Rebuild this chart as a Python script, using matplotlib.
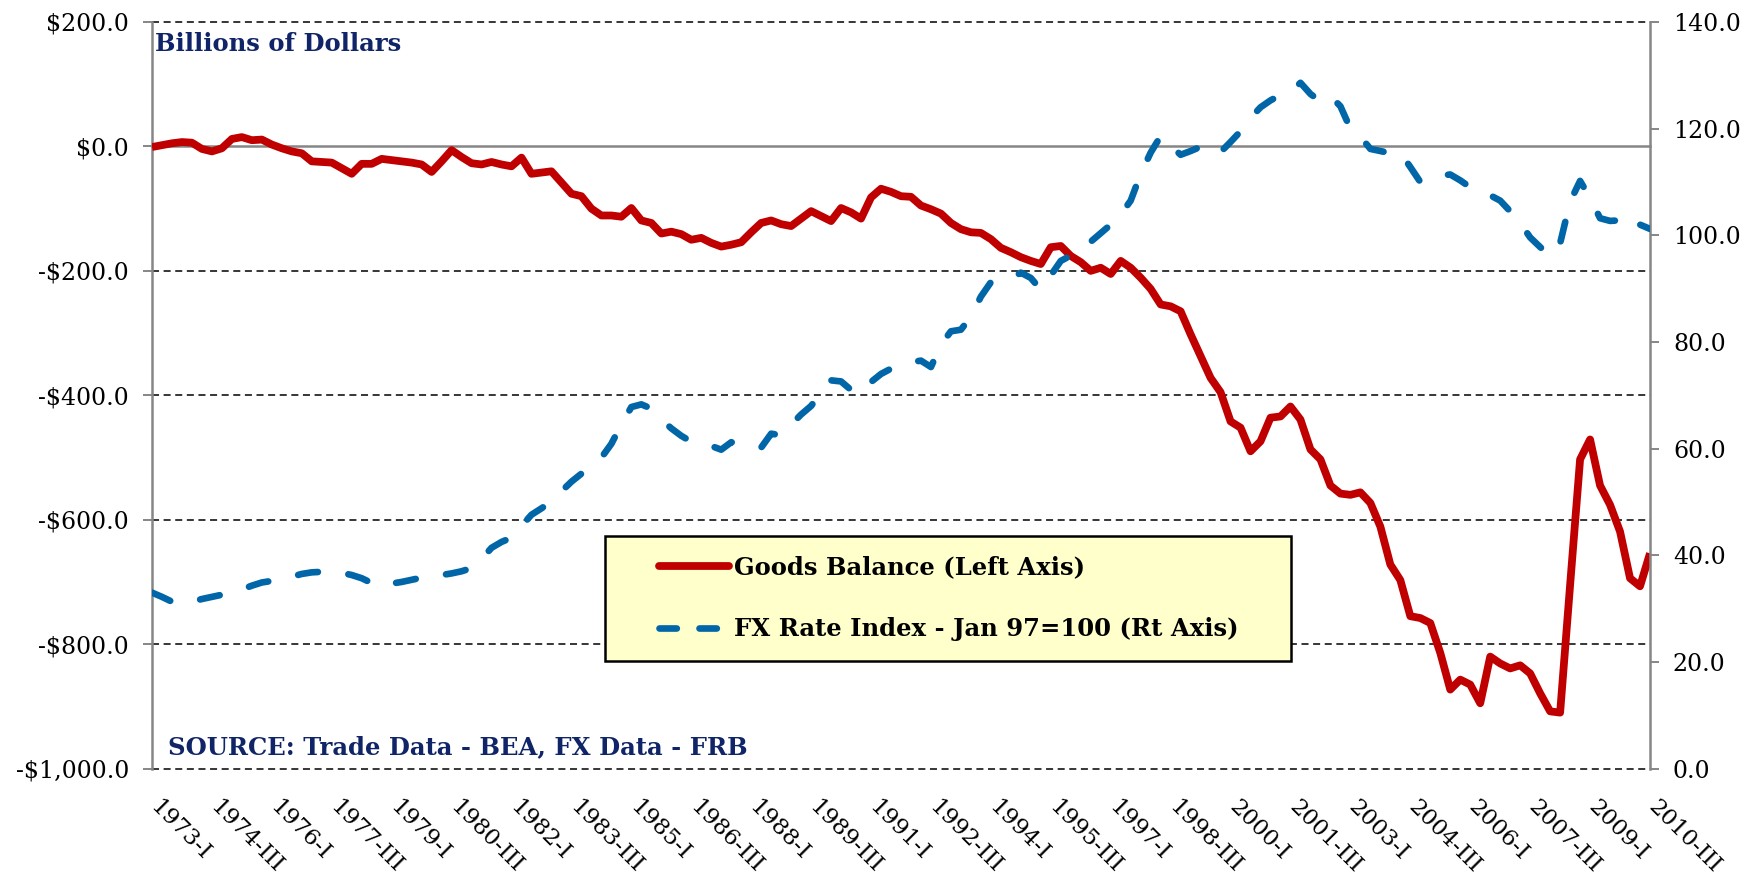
import matplotlib
matplotlib.use("Agg")
import matplotlib.pyplot as plt
from matplotlib.lines import Line2D
from matplotlib.patches import Rectangle
from matplotlib.transforms import ScaledTranslation

# ---------------- data (quarterly, 1973-I .. 2010-III) ----------------
goods_balance = [
    -1, 2, 5, 7, 6, -4, -8, -3, 12, 15,
    10, 11, 3, -3, -8, -11, -24, -25, -26, -35,
    -44, -28, -28, -20, -22, -24, -26, -29, -41, -24,
    -6, -17, -27, -29, -25, -29, -32, -18, -44, -42,
    -40, -58, -76, -80, -100, -111, -111, -113, -99, -119,
    -123, -140, -137, -141, -150, -147, -155, -161, -158, -154,
    -138, -123, -119, -125, -128, -116, -104, -112, -120, -99,
    -106, -116, -82, -68, -73, -80, -81, -95, -101, -108,
    -123, -133, -138, -139, -149, -163, -170, -178, -184, -189,
    -162, -160, -176, -186, -200, -195, -205, -184, -195, -211,
    -229, -254, -257, -265, -302, -337, -372, -395, -442, -452,
    -490, -474, -436, -434, -418, -439, -487, -503, -545, -558,
    -560, -556, -573, -611, -672, -697, -755, -758, -766, -814,
    -873, -857, -865, -895, -820, -831, -839, -834, -847, -879,
    -908, -910, -705, -503, -471, -545, -576, -619, -694, -707,
    -654,
]

fx_index = [
    33.0, 32.2, 31.3, 31.0, 31.3, 31.8, 32.2, 32.6, 32.9, 33.6,
    34.3, 34.9, 35.2, 35.5, 36.0, 36.5, 36.8, 36.9, 36.9, 36.7,
    36.3, 35.7, 34.8, 34.1, 34.7, 35.0, 35.4, 35.8, 36.0, 36.3,
    36.6, 37.0, 37.6, 39.3, 41.4, 42.5, 43.3, 45.5, 47.6, 48.8,
    50.1, 52.0, 53.8, 55.3, 56.5, 58.3, 60.9, 64.5, 67.8, 68.3,
    67.5, 65.5, 63.8, 62.4, 61.3, 60.9, 60.5, 59.8, 61.2, 60.8,
    60.4, 60.2, 62.8, 62.5, 64.5, 66.4, 68.0, 70.5, 72.8, 72.6,
    71.0, 70.3, 72.5, 74.0, 75.0, 75.6, 76.2, 76.5, 75.3, 79.5,
    82.0, 82.3, 84.7, 88.5, 91.2, 91.5, 91.8, 93.0, 92.0, 89.8,
    92.5, 95.2, 96.2, 97.3, 98.8, 100.4, 102.0, 103.9, 106.5, 111.5,
    115.5, 118.6, 116.8, 115.1, 115.8, 116.6, 115.4, 115.6, 117.5, 119.5,
    122.0, 124.0, 125.3, 126.3, 126.9, 128.6, 126.5, 125.1, 126.1, 124.2,
    120.0, 118.5, 116.2, 115.8, 115.4, 115.5, 112.8, 110.0, 110.8, 111.2,
    111.4, 110.3, 109.0, 108.3, 107.5, 106.5, 104.5, 102.3, 99.6, 97.8,
    96.1, 98.5, 106.3, 110.2, 107.0, 103.2, 102.7, 102.8, 103.8, 102.0,
    101.2,
]

tick_labels = [
    "1973-I", "1974-III", "1976-I", "1977-III", "1979-I", "1980-III",
    "1982-I", "1983-III", "1985-I", "1986-III", "1988-I", "1989-III",
    "1991-I", "1992-III", "1994-I", "1995-III", "1997-I", "1998-III",
    "2000-I", "2001-III", "2003-I", "2004-III", "2006-I", "2007-III",
    "2009-I", "2010-III",
]
tick_step = 6  # quarters between labels

left_ticks = [-1000, -800, -600, -400, -200, 0, 200]
left_tick_labels = ["-$1,000.0", "-$800.0", "-$600.0", "-$400.0", "-$200.0", "$0.0", "$200.0"]
right_ticks = [0, 20, 40, 60, 80, 100, 120, 140]
right_tick_labels = ["0.0", "20.0", "40.0", "60.0", "80.0", "100.0", "120.0", "140.0"]

series_labels = ["Goods Balance (Left Axis)", "FX Rate Index - Jan 97=100 (Rt Axis)"]

# ---------------- styling ----------------
RED = "#C00000"
BLUE = "#0066A8"
NAVY = "#102468"
GRAY = "#868686"
SERIF = ["DejaVu Serif"]
TICK_FS = 17
NOTE_FS = 17.5

fig = plt.figure(figsize=(17.57, 8.90), dpi=100)
ax = fig.add_axes([0.0865, 0.1364, 0.8526, 0.8389])
ax2 = ax.twinx()

x = list(range(len(goods_balance)))

# grid lines (dashed) and zero line
for v in left_ticks:
    if v == 0:
        ax.axhline(v, color=GRAY, lw=1.8, zorder=1, clip_on=False)
    else:
        ax.axhline(v, color="black", lw=1.1, linestyle=(0, (4.6, 3.0)), zorder=1, clip_on=False)

ax.plot(x, goods_balance, color=RED, lw=5.6, solid_joinstyle="round",
        solid_capstyle="butt", zorder=3)
ax2.plot(x, fx_index, color=BLUE, lw=4.8, linestyle=(0, (3.0, 4.6)),
         dash_capstyle="round", dash_joinstyle="round", zorder=3)

ax.set_xlim(0, len(goods_balance) - 1)
ax.set_ylim(-1000, 200)
ax2.set_ylim(0, 140)

ax.set_yticks(left_ticks)
ax.set_yticklabels(left_tick_labels, fontfamily=SERIF, fontsize=TICK_FS)
ax2.set_yticks(right_ticks)
ax2.set_yticklabels(right_tick_labels, fontfamily=SERIF, fontsize=TICK_FS)

ax.set_xticks([i * tick_step for i in range(len(tick_labels))])
ax.set_xticklabels(tick_labels, fontfamily=SERIF, fontsize=16.5, rotation=-45,
                   rotation_mode="anchor", ha="left", va="top")
ax.tick_params(axis="x", length=0, pad=20)
ax.tick_params(axis="y", direction="out", length=6.5, width=1.4, color=GRAY, pad=10)
ax2.tick_params(axis="y", direction="out", length=6.5, width=1.4, color=GRAY, pad=10)

for lab in ax.get_xticklabels():
    lab.set_transform(lab.get_transform() + ScaledTranslation(0.095, 0, fig.dpi_scale_trans))

for a in (ax, ax2):
    for s in ("top", "bottom"):
        a.spines[s].set_visible(False)
ax.spines["right"].set_visible(False)
ax2.spines["left"].set_visible(False)
ax.spines["left"].set_color(GRAY)
ax.spines["left"].set_linewidth(1.8)
ax2.spines["right"].set_color(GRAY)
ax2.spines["right"].set_linewidth(1.8)

# annotations
ax.text(0.002, 0.987, "Billions of Dollars", transform=ax.transAxes, ha="left", va="top",
        fontfamily=SERIF, fontweight="bold", fontsize=NOTE_FS, color=NAVY, zorder=5)
ax.text(0.011, 0.012, "SOURCE: Trade Data - BEA, FX Data - FRB", transform=ax.transAxes,
        ha="left", va="bottom", fontfamily=SERIF, fontweight="bold", fontsize=NOTE_FS,
        color=NAVY, zorder=5)

# legend box
box = Rectangle((0.3024, 0.144), 0.4579, 0.1675, transform=ax2.transAxes,
                facecolor="#FFFFCC", edgecolor="black", lw=1.8, zorder=6)
ax2.add_patch(box)
handles = [
    Line2D([], [], color=RED, lw=5.6, solid_capstyle="round"),
    Line2D([], [], color=BLUE, lw=4.8, linestyle=(0, (2.6, 3.4)), dash_capstyle="round"),
]
leg = ax2.legend(handles, series_labels, loc="upper left", bbox_to_anchor=(0.3384, 0.2854),
                 bbox_transform=ax2.transAxes, frameon=False, handlelength=2.9,
                 handletextpad=0.2, labelspacing=1.55, borderpad=0.0, borderaxespad=0.0,
                 prop={"family": SERIF, "weight": "bold", "size": NOTE_FS})
leg.set_zorder(7)

fig.savefig("out.png", dpi=100)
